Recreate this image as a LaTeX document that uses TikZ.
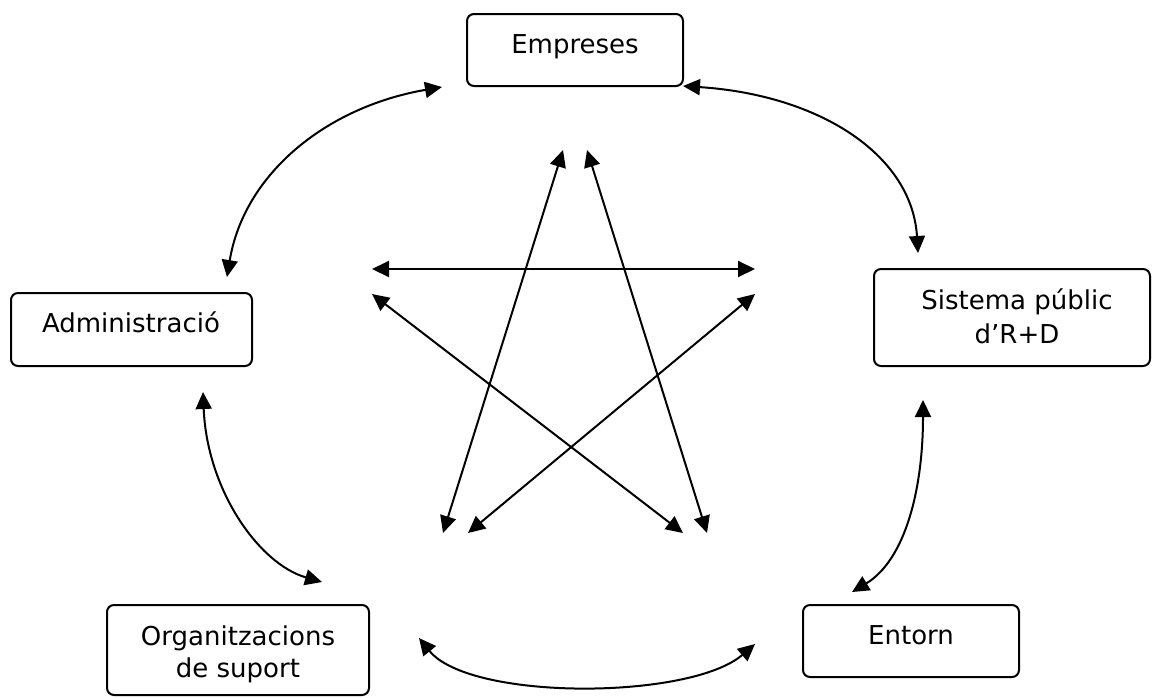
\documentclass[tikz,border=0pt]{standalone}
\usepackage{fontspec}
\setmainfont{DejaVu Sans}
\usetikzlibrary{arrows.meta}
\begin{document}
\begin{tikzpicture}[x=0.5pt,y=-0.5pt,
  box/.style={draw, line width=1pt, rounded corners=3.5pt, inner sep=0pt},
  lbl/.style={anchor=base, align=center, inner sep=0pt, font=\fontsize{13pt}{16.5pt}\selectfont},
  link/.style={line width=1pt, {Triangle[length=8.5pt,width=8pt]}-{Triangle[length=8.5pt,width=8pt]}}]
\useasboundingbox (0,0) rectangle (1155,697);
% boxes
\node[box, minimum width=108pt, minimum height=36pt] (emp) at (575,50) {};
\node[box, minimum width=138pt, minimum height=48.5pt] (sis) at (1012,317.5) {};
\node[box, minimum width=120.5pt, minimum height=36.5pt] (adm) at (131.5,329.5) {};
\node[box, minimum width=131pt, minimum height=45pt] (org) at (238,650) {};
\node[box, minimum width=108pt, minimum height=36pt] (ent) at (911,641) {};
% labels (anchor base = last line)
\node[lbl] (empT) at (575,53) {Empreses};
\node[lbl, font=\fontsize{13pt}{17pt}\selectfont] (sisT) at (1017,343) {Sistema públic\\d’R+D};
\node[lbl] (admT) at (131,332) {Administració};
\node[lbl, font=\fontsize{13pt}{16pt}\selectfont] (orgT) at (238,677) {Organitzacions\\de suport};
\node[lbl] (entT) at (911,644) {Entorn};
% curve end points
\coordinate (c1a) at (442,87);  \coordinate (c1b) at (227,277);
\coordinate (c2a) at (683,86);  \coordinate (c2b) at (918,253);
\coordinate (c3a) at (203,392); \coordinate (c3b) at (322,582);
\coordinate (c4a) at (923,400); \coordinate (c4b) at (852,592);
\coordinate (c5a) at (419,638); \coordinate (c5b) at (755,644);
\draw[link] (c1a) .. controls (326,107) and (244,174) .. (c1b);
\draw[link] (c2a) .. controls (820,95) and (912,155) .. (c2b);
\draw[link] (c3a) .. controls (207,490) and (259,564) .. (c3b);
\draw[link] (c4a) .. controls (923,490) and (905,560) .. (c4b);
\draw[link] (c5a) .. controls (470,701) and (690,700) .. (c5b);
% star
\coordinate (s1a) at (563,150); \coordinate (s1b) at (443,533);
\coordinate (s2a) at (587,150); \coordinate (s2b) at (707,533);
\coordinate (h1) at (372,269);  \coordinate (h2) at (755,269);
\coordinate (d1a) at (372,294); \coordinate (d1b) at (683,533);
\coordinate (d2a) at (755,294); \coordinate (d2b) at (468,533);
\draw[link] (s1a) -- (s1b);
\draw[link] (s2a) -- (s2b);
\draw[link] (h1) -- (h2);
\draw[link] (d1a) -- (d1b);
\draw[link] (d2a) -- (d2b);
\end{tikzpicture}
\end{document}
